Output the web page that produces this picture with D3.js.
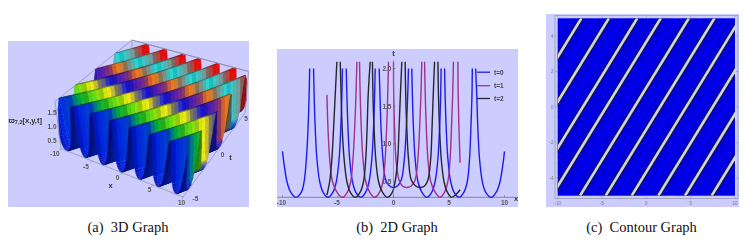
<!DOCTYPE html>
<html><head><meta charset="utf-8">
<script src="https://cdn.jsdelivr.net/npm/d3@7"></script>
<style>html,body{margin:0;padding:0;background:#fff}svg{display:block}</style>
</head><body><svg id="c" width="749" height="241"></svg>
<script>
// ---------- data ----------
const captions = ["(a)\u00a0\u00a03D Graph", "(b)\u00a0\u00a02D Graph", "(c)\u00a0\u00a0Contour Graph"];
const xTicks = [-10, -5, 0, 5, 10];
const tTicks3D = [-5, 0, 5];
const zTicks3D = [0.5, 1.0, 1.5];
const yTicks2D = [0.5, 1.0, 1.5, 2.0];
const contourYTicks = [-4, -2, 0, 2, 4];
const legendLabels = ["t=0", "t=1", "t=2"];
const legendColors = ["#1c1cf0", "#a0308f", "#26262e"];

// ridge positions: x where each ridge line meets t=-5 and t=5
const ridgeAtTminus5 = [-19.6, -16.5, -13.3, -10.65, -7.48, -4.59, -1.65, 1.35, 4.36, 7.37, 10.3];
const ridgeAtTplus5  = [-7.33, -4.23, -1.03, 1.62, 4.79, 7.68, 10.62, 13.62, 16.63, 19.64, 22.57];

// ridge-to-valley height profile of the 3D surface (distance as a share of the half period)
const profileDist = [0, 0.1, 0.2, 0.3, 0.39, 0.53, 0.72, 0.88, 1.0];
const profileZ    = [2.6, 2.0, 1.65, 1.2, 0.8, 0.5, 0.36, 0.31, 0.29];

// colour of the surface along t
const hueT = [-5, -3.9, -3.3, -2.3, -1.4, -0.8, -0.2, 0.9, 1.6, 2.3, 3, 4, 4.6, 5];
const hueC = ["#0618e8", "#0048d0", "#00b030", "#70e010", "#f4ec10", "#808070", "#1010e0", "#7a2a90", "#f47810", "#888880", "#10e8e8", "#88908c", "#e01010", "#e01010"];

// 2D curves, one arc per array [x,y,...]
const blueArcs = [
 [-10,.9,-9.85,.72,-9.6,.5,-9.3,.37,-8.8,.29,-8.3,.36,-8.05,.5,-7.85,.8,-7.7,1.2,-7.6,1.65,-7.55,2.0],
 [-7.2,2.0,-7.15,1.65,-7.05,1.2,-6.9,.8,-6.65,.5,-6.35,.36,-5.9,.29,-5.45,.36,-5.15,.5,-4.9,.8,-4.75,1.2,-4.65,1.65,-4.6,2.0],
 [-4.26,2.0,-4.2,1.65,-4.1,1.2,-3.95,.8,-3.7,.5,-3.4,.36,-2.95,.29,-2.5,.36,-2.2,.5,-1.95,.8,-1.8,1.2,-1.7,1.65,-1.65,2.0],
 [-1.29,2.0,-1.22,1.65,-1.12,1.2,-.95,.8,-.7,.52,-.35,.44,0,.42,.35,.44,.7,.52,.98,.8,1.15,1.2,1.28,1.65,1.35,2.0],
 [1.65,2.0,1.7,1.65,1.8,1.2,1.95,.8,2.2,.5,2.55,.36,3,.29,3.45,.36,3.75,.5,4,.8,4.15,1.2,4.25,1.65,4.29,2.0],
 [4.6,2.0,4.65,1.65,4.75,1.2,4.9,.8,5.15,.5,5.45,.36,5.9,.29,6.35,.36,6.65,.5,6.85,.8,6.97,1.2,7.07,1.65,7.1,2.0],
 [7.4,2.0,7.5,1.65,7.6,1.2,7.75,.8,8,.5,8.3,.36,8.8,.29,9.3,.37,9.6,.5,9.85,.72,10,.9]
];
const purpleArcs = [
 [-6,1.65,-5.9,1.2,-5.75,.8,-5.5,.5,-5.1,.36,-4.6,.29,-4.15,.36,-3.85,.5,-3.65,.8,-3.5,1.2,-3.38,1.65,-3.3,2.09],
 [-3.06,2.09,-3,1.65,-2.9,1.2,-2.75,.8,-2.5,.5,-2.15,.36,-1.7,.29,-1.25,.36,-.95,.5,-.75,.8,-.62,1.2,-.52,1.65,-.45,2.09],
 [0,2.09,.02,1.65,.1,1.2,.22,.8,.5,.52,.8,.44,1.2,.42,1.6,.44,1.95,.52,2.2,.8,2.35,1.2,2.47,1.65,2.55,2.09],
 [2.8,2.09,2.86,1.65,2.96,1.2,3.1,.8,3.35,.5,3.75,.36,4.2,.29,4.6,.36,4.9,.5,5.1,.8,5.22,1.2,5.33,1.65,5.4,2.09],
 [5.8,2.09,5.83,1.65,5.9,1.2,6,.75]
];
const blackArcs = [
 [-6,.32,-5.75,.5,-5.55,.8,-5.4,1.2,-5.25,1.65,-5.1,2.09],
 [-4.8,2.09,-4.72,1.65,-4.62,1.2,-4.45,.8,-4.2,.5,-3.9,.36,-3.45,.29,-3,.36,-2.7,.5,-2.5,.8,-2.38,1.2,-2.28,1.65,-2.1,2.09],
 [-1.9,2.09,-1.85,1.65,-1.75,1.2,-1.6,.8,-1.35,.5,-1,.36,-.55,.29,-.1,.36,.15,.5,.38,.8,.5,1.2,.62,1.65,.75,2.09],
 [1.05,2.09,1.1,1.65,1.2,1.2,1.35,.8,1.6,.52,2,.44,2.4,.42,2.8,.44,3.1,.52,3.35,.8,3.47,1.2,3.58,1.65,3.7,2.09],
 [4,2.09,4.05,1.65,4.15,1.2,4.3,.8,4.55,.5,4.85,.36,5.25,.29,5.65,.33,6,.39]
];

// ---------- shared ----------
const svg = d3.select("#c");
const defs = svg.append("defs");
defs.append("filter").attr("id","soft").attr("x","-2%").attr("y","-2%").attr("width","104%").attr("height","104%")
  .append("feGaussianBlur").attr("stdDeviation",.3);
const LAV = "#ccccff";
const SANS = "'Liberation Sans',Arial,sans-serif";
const SERIF = "'Liberation Serif','Times New Roman',serif";
const captionX = [128, 397, 641.5];
svg.selectAll("text.cap").data(captions).join("text").attr("class","cap")
  .attr("x",(d,i)=>captionX[i]).attr("y",232).attr("text-anchor","middle")
  .attr("font-family",SERIF).attr("font-size",14.5).attr("fill","#111").text(d=>d);

function pairs(a){const r=[];for(let i=0;i<a.length;i+=2)r.push([a[i],a[i+1]]);return r;}
const txt=(g,x,y,s,o={})=>g.append("text").attr("x",x).attr("y",y).attr("font-family",SANS)
  .attr("font-size",o.size||7).attr("font-weight",o.weight||"bold").attr("fill",o.fill||"#444")
  .attr("text-anchor",o.anchor||"middle").text(s);

// ---------- (a) 3D ----------
{
 const g = svg.append("g").attr("filter","url(#soft)");
 g.append("rect").attr("x",8).attr("y",41).attr("width",241).attr("height",166).attr("fill",LAV);
 const sx = d3.scaleLinear().domain([-10,10]).range([0,1]);
 const st = d3.scaleLinear().domain([-5,5]).range([0,1]);
 const sz = d3.scaleLinear().domain([0.29,1.85]).range([0,1]);
 const bot = {A:[61,148.5],B:[183,197],C:[245,113],D:[132,75]};
 const top = {A:[55,101.5],B:[188,147.7],C:[248.5,71.5],D:[132,40]};
 const bil=(q,u,v,k)=>(1-u)*(1-v)*q.A[k]+u*(1-v)*q.B[k]+u*v*q.C[k]+(1-u)*v*q.D[k];
 const proj=(x,t,z)=>{const u=sx(x),v=st(t),w=sz(z);return [0,1].map(k=>bil(bot,u,v,k)*(1-w)+bil(top,u,v,k)*w);};
 const boxP=(x,t,up)=>proj(x,t,up?1.85:0.29);
 const line=d3.line();
 const edge=(p)=>g.append("path").attr("d",line(p)).attr("fill","none").attr("stroke","#8a8aa8").attr("stroke-width",.7);
 edge([boxP(-10,-5,1),boxP(-10,5,1),boxP(10,5,1)]);
 edge([boxP(-10,5,0),boxP(-10,5,1)]);

 const colorAt=d3.scaleLinear().domain(hueT).range(hueC).interpolate(d3.interpolateRgb);
 const profile=d3.scaleLinear().domain(profileDist).range(profileZ).clamp(true);
 const drift=ridgeAtTplus5[0]-ridgeAtTminus5[0];
 const ridgeX=t=>ridgeAtTminus5.map((a,i)=>a+(ridgeAtTplus5[i]-a)*st(t));
 const zAt=(x,t)=>{const d=d3.min(ridgeX(t),r=>Math.abs(x-r));return profile(d/1.5);};
 const ss=d3.range(-21,11.001,0.125), ts=d3.range(-5,5.001,0.25);
 const quads=[];
 const zMax=1.85;
 const clampX=d3.scaleLinear().domain([-10,10]).range([-10,10]).clamp(true);
 ts.slice(0,-1).forEach((t0,j)=>{const t1=ts[j+1];
  ss.slice(0,-1).forEach((s0,i)=>{const s1=ss[i+1];
   const raw=[[s0,t0],[s1,t0],[s1,t1],[s0,t1]].map(p=>p[0]+drift*st(p[1]));
   if(d3.max(raw)<=-10||d3.min(raw)>=10) return;
   const pts=[t0,t0,t1,t1].map((t,k)=>[clampX(raw[k]),t]);
   const zs=pts.map(p=>zAt(p[0],p[1]));
   if(Math.min(...zs)>=zMax) return;
   const c=pts.map((p,k)=>proj(p[0],p[1],Math.min(zs[k],zMax)));
   const slope=(zs[1]+zs[2]-zs[0]-zs[3]);
   const tm=(t0+t1)/2;
   const xm=d3.mean(pts,p=>p[0]);
   let col=d3.hsl(colorAt(tm));
   const h=d3.mean(zs);
   if(h<0.5){col=d3.hsl(d3.interpolateRgb("#0a24e0",col.formatRgb())(Math.max(0,(h-.29)/.21)));}
   col.l*= slope<0? 1 : 0.62;
   if(j%4===0) col.l*=0.86;
   quads.push({d:line(c)+"Z",key:tm-xm*0.3,c:col.formatRgb()});
  });
 });
 quads.sort((a,b)=>d3.descending(a.key,b.key));
 g.append("g").selectAll("path").data(quads).join("path")
  .attr("d",d=>d.d).attr("fill",d=>d.c).attr("stroke",d=>d.c).attr("stroke-width",.35);
 edge([boxP(-10,-5,1),boxP(-10,-5,0),boxP(10,-5,0),boxP(10,5,0),boxP(10,5,1),boxP(-10,5,1)]);
 const lab=(x,y,s)=>txt(g,x,y,s,{size:6.5,fill:"#555"});
 const xLab=[[55,156],[86,169],[117.5,179.5],[149.5,191.5],[181.5,205]];
 xTicks.forEach((v,i)=>{lab(xLab[i][0],xLab[i][1],v);
   const p=boxP(v,-5,0);edge([p,[p[0]-1,p[1]+2]]);});
 const tLab=[[195.5,201],[222.5,157],[246,120.5]];
 tTicks3D.forEach((v,i)=>lab(tLab[i][0],tLab[i][1],v));
 const zLab=[[52,143],[52,129],[52,115]];
 zTicks3D.forEach((v,i)=>lab(zLab[i][0],zLab[i][1],v.toFixed(1)));
 txt(g,230.5,160,"t",{size:7.5,fill:"#333"});
 txt(g,110.5,188,"x",{size:7.5,fill:"#333"});
 const zl=txt(g,8.5,122.5,"",{size:7.5,anchor:"start",fill:"#333"});
 zl.append("tspan").text("ϖ");
 zl.append("tspan").attr("font-size",5.5).attr("dy",1.5).text("7,2");
 zl.append("tspan").attr("dy",-1.5).text("[x,y,t]");
}

// ---------- (b) 2D ----------
{
 const g = svg.append("g").attr("filter","url(#soft)");
 g.append("rect").attr("x",277).attr("y",49).attr("width",241).attr("height",158).attr("fill",LAV);
 const x=d3.scaleLinear().domain([-10,10]).range([282.5,504.5]);
 const y=d3.scaleLinear().domain([0.5,2]).range([181.5,68.5]);
 const axY=197.3, axX=x(0);
 const ln=d3.line().x(d=>x(d[0])).y(d=>y(d[1])).curve(d3.curveCatmullRom.alpha(.5));
 [[blueArcs,0],[purpleArcs,1],[blackArcs,2]].forEach(([arcs,k])=>{
   g.append("g").selectAll("path").data(arcs).join("path")
    .attr("d",a=>ln(pairs(a))).attr("fill","none").attr("stroke",legendColors[k]).attr("stroke-width",1.4);
 });
 g.append("line").attr("x1",277).attr("x2",514).attr("y1",axY).attr("y2",axY).attr("stroke","#555").attr("stroke-width",.6);
 g.append("line").attr("x1",axX).attr("x2",axX).attr("y1",60).attr("y2",axY).attr("stroke","#777").attr("stroke-width",.6);
 xTicks.forEach(v=>{g.append("line").attr("x1",x(v)).attr("x2",x(v)).attr("y1",axY-2).attr("y2",axY).attr("stroke","#555").attr("stroke-width",.5);
   txt(g,x(v)-(v<0?1:0),205,v,{size:6.5,fill:"#555"});});
 yTicks2D.forEach(v=>{g.append("line").attr("x1",axX).attr("x2",axX+2).attr("y1",y(v)).attr("y2",y(v)).attr("stroke","#555").attr("stroke-width",.5);
   txt(g,axX-2,y(v)+2.5,v.toFixed(1),{size:6.5,anchor:"end",fill:"#555"});});
 txt(g,393.5,56,"t",{size:7.5,fill:"#333"});
 txt(g,516,200.5,"x",{size:7.5,fill:"#333"});
 const legY=[72.2,85.7,98.5];
 g.append("g").selectAll("line").data(legendLabels).join("line")
  .attr("x1",477).attr("x2",490).attr("y1",(d,i)=>legY[i]).attr("y2",(d,i)=>legY[i])
  .attr("stroke",(d,i)=>legendColors[i]).attr("stroke-width",1.3);
 legendLabels.forEach((s,i)=>txt(g,494,legY[i]+2.3,s,{size:6.5,anchor:"start",fill:"#444"}));
}

// ---------- (c) contour ----------
{
 const g = svg.append("g").attr("filter","url(#soft)");
 g.append("rect").attr("x",546).attr("y",14).attr("width",193).attr("height",193).attr("fill",LAV);
 const x=d3.scaleLinear().domain([-10,10]).range([557.7,735]);
 const y=d3.scaleLinear().domain([-5,5]).range([195.7,18.3]);
 defs.append("clipPath").attr("id","plotc").append("rect")
   .attr("x",x(-10)).attr("y",y(5)).attr("width",x(10)-x(-10)).attr("height",y(-5)-y(5));
 g.append("rect").attr("x",x(-10)).attr("y",y(5)).attr("width",x(10)-x(-10)).attr("height",y(-5)-y(5)).attr("fill","#0202ee");
 const s=g.append("g").attr("clip-path","url(#plotc)");
 const off=[-1.05,-.65,.65,1.05];
 ridgeAtTminus5.forEach((a,i)=>{
   const b=ridgeAtTplus5[i];
   off.forEach(o=>s.append("line").attr("x1",x(a+o)).attr("x2",x(b+o)).attr("y1",y(-5)).attr("y2",y(5)).attr("stroke","#0a0a90").attr("stroke-width",.6));
   s.append("line").attr("x1",x(a)).attr("x2",x(b)).attr("y1",y(-5)).attr("y2",y(5)).attr("stroke","#101028").attr("stroke-width",4.8);
   s.append("line").attr("x1",x(a)).attr("x2",x(b)).attr("y1",y(-5)).attr("y2",y(5)).attr("stroke","#ccd4e4").attr("stroke-width",2.7);
 });
 const F="#8888a0";
 g.append("rect").attr("x",555).attr("y",15.5).attr("width",183).attr("height",183).attr("fill","none").attr("stroke",F).attr("stroke-width",.6);
 xTicks.forEach(v=>{
   g.append("line").attr("x1",x(v)).attr("x2",x(v)).attr("y1",196.5).attr("y2",198.5).attr("stroke",F).attr("stroke-width",.5);
   g.append("line").attr("x1",x(v)).attr("x2",x(v)).attr("y1",15.5).attr("y2",17.5).attr("stroke",F).attr("stroke-width",.5);
   txt(g,x(v),204.5,v,{size:4.5,weight:"normal",fill:"#777"});});
 contourYTicks.forEach(v=>{
   g.append("line").attr("x1",555).attr("x2",557).attr("y1",y(v)).attr("y2",y(v)).attr("stroke",F).attr("stroke-width",.5);
   g.append("line").attr("x1",736).attr("x2",738).attr("y1",y(v)).attr("y2",y(v)).attr("stroke",F).attr("stroke-width",.5);
   txt(g,553.5,y(v)+1.6,v,{size:4.5,weight:"normal",anchor:"end",fill:"#777"});});
}
</script></body></html>
